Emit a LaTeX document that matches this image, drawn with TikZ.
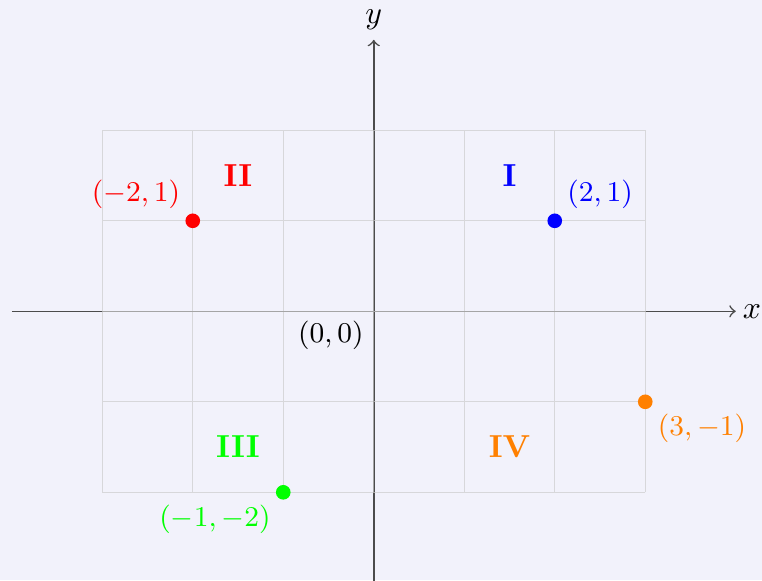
\documentclass[tikz,border=0pt]{standalone}
\definecolor{bgc}{HTML}{F2F2FB}
\tikzset{
  axis/.style={black!70, line width=0.5pt, ->, >=to},
  gridline/.style={black!20, line width=0.4pt, opacity=0.7},
  pt/.style={circle, fill, inner sep=0pt, minimum size=4.6pt},
  plabel/.style={font=\small, inner sep=2pt},
  quad/.style={font=\bfseries},
}
\begin{document}
\begin{tikzpicture}
\fill[bgc] (-4.13,-2.97) rectangle (4.29,3.44);
\useasboundingbox (-4.13,-2.97) rectangle (4.29,3.44);
\draw[axis] (-4,0) -- (4,0) node[right, black, inner sep=2pt] (xl) {$x$};
\draw[axis] (0,-3) -- (0,3) node[above, black, inner sep=3pt] (yl) {$y$};
\draw[gridline] (-3,-2) grid (3,2);
\node[plabel, below left, inner sep=3pt] (o) at (0,0) {$(0,0)$};
\node[pt, blue] (p1) at (2,1) {};
\node[plabel, above right, blue] (l1) at (p1.north east) {$(2,1)$};
\node[pt, red] (p2) at (-2,1) {};
\node[plabel, above left, red] (l2) at (p2.north west) {$(-2,1)$};
\node[pt, green] (p3) at (-1,-2) {};
\node[plabel, below left, green] (l3) at (p3.south west) {$(-1,-2)$};
\node[pt, orange] (p4) at (3,-1) {};
\node[plabel, below right, orange] (l4) at (p4.south east) {$(3,-1)$};
\node[quad, blue] (q1) at (1.5,1.5) {I};
\node[quad, red] (q2) at (-1.5,1.5) {II};
\node[quad, green] (q3) at (-1.5,-1.5) {III};
\node[quad, orange] (q4) at (1.5,-1.5) {IV};
\end{tikzpicture}
\end{document}
